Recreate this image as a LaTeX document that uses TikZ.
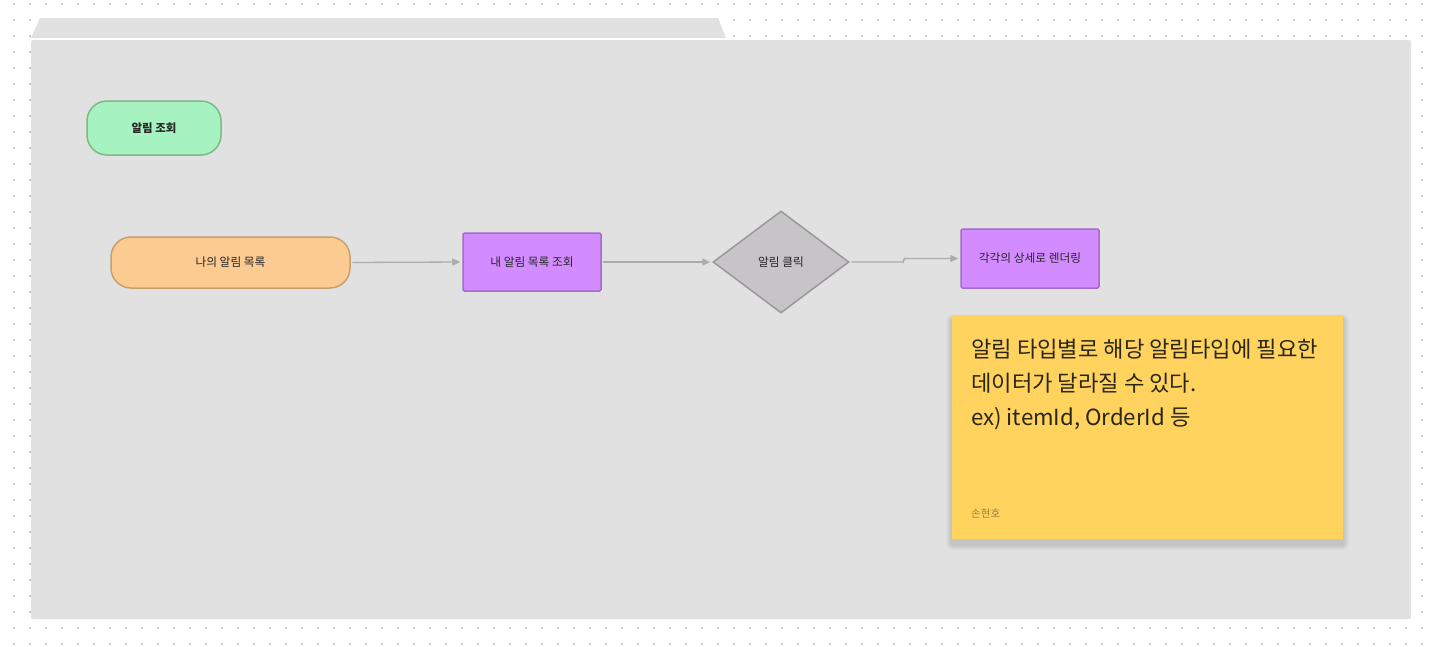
\documentclass[tikz,border=0pt]{standalone}
\usepackage{fontspec}
\setmainfont{Noto Sans CJK KR}
\usetikzlibrary{shapes.geometric,arrows.meta}
\definecolor{dotc}{HTML}{C9C9C9}
\definecolor{framec}{HTML}{E1E1E1}
\definecolor{greenf}{HTML}{A6F2C0}
\definecolor{greenb}{HTML}{7DB98E}
\definecolor{orangef}{HTML}{FCCB92}
\definecolor{orangeb}{HTML}{C8A06C}
\definecolor{purplef}{HTML}{D38CFF}
\definecolor{purpleb}{HTML}{A66ACB}
\definecolor{diamf}{HTML}{C6C4C6}
\definecolor{diamb}{HTML}{9A999A}
\definecolor{stickyf}{HTML}{FFD35E}
\definecolor{txt}{HTML}{262626}
\definecolor{stxt}{HTML}{2A2618}
\definecolor{authc}{HTML}{96833F}
\definecolor{linec}{HTML}{ABABAB}
\tikzset{
  lab/.style={font=\fontsize{11.7pt}{13pt}\selectfont, text=txt},
  pill/.style={lab, rounded corners=20pt, line width=1.5pt, inner sep=0pt},
  procbox/.style={lab, rectangle, rounded corners=1.5pt, fill=purplef, draw=purpleb, line width=1.5pt, minimum width=138pt, inner sep=0pt},
  decide/.style={lab, diamond, fill=diamf, draw=diamb, line width=1.5pt, minimum width=136pt, minimum height=102pt, inner sep=0pt},
  conn/.style={draw=linec, line width=1.3pt, shorten <=1.5pt, shorten >=2pt, -{Triangle[length=8pt,width=7pt,fill=linec]}},
  stext/.style={font=\fontsize{22.2pt}{26pt}\selectfont, text=stxt, inner sep=0pt, anchor=base west},
}
\begin{document}
\begin{tikzpicture}[x=1pt,y=-1pt]
\useasboundingbox (0,0) rectangle (1434,646);
\fill[white] (0,0) rectangle (1434,646);
% dot grid
\foreach \i in {0,...,88}{
  \foreach \j in {0,...,40}{
    \fill[dotc] ({13+16*\i},{3+16*\j}) rectangle ++(2,2);
  }
}
% frame
\fill[framec] (31,38) -- (40,18) -- (718,18) -- (726,38) -- cycle;
\fill[framec, rounded corners=2pt] (31,40) rectangle (1411,619);

% nodes
\node[pill, fill=greenf, draw=greenb, minimum width=134pt, minimum height=54pt, font=\fontsize{11.5pt}{13pt}\selectfont\bfseries] (title) at (154,128) {알림 조회};
\node[pill, fill=orangef, draw=orangeb, minimum width=239pt, minimum height=51pt] (mine) at (230.5,262.5) {나의 알림 목록};
\node[procbox, minimum height=58pt] (query) at (532,262) {내 알림 목록 조회};
\node[decide] (click) at (781,262) {알림 클릭};
\node[procbox, minimum height=59pt] (render) at (1030,258.5) {각각의 상세로 렌더링};

% connectors
\draw[conn] (mine.east) -- (query.west);
\draw[conn] (query.east) -- (click.west);
\draw[conn, rounded corners=2pt] (click.east) -- ++(54,0) |- (render.west);

% sticky note shadow
\foreach \k in {1,...,6}{
  \fill[black, opacity=0.018, rounded corners=\k pt] ({952-\k},{320-\k}) rectangle ({1343+\k},{544+\k});
}
\fill[stickyf] (952,315) rectangle (1343,539);
\node[stext] (s1) at (971,357.5) {알림 타입별로 해당 알림타입에 필요한};
\node[stext] (s2) at (971,391.5) {데이터가 달라질 수 있다.};
\node[stext] (s3) at (971,425.5) {ex) itemId, OrderId 등};
\node[font=\fontsize{10.5pt}{12pt}\selectfont, text=authc, inner sep=0pt, anchor=base west] (author) at (971,517) {손현호};
\end{tikzpicture}
\end{document}
